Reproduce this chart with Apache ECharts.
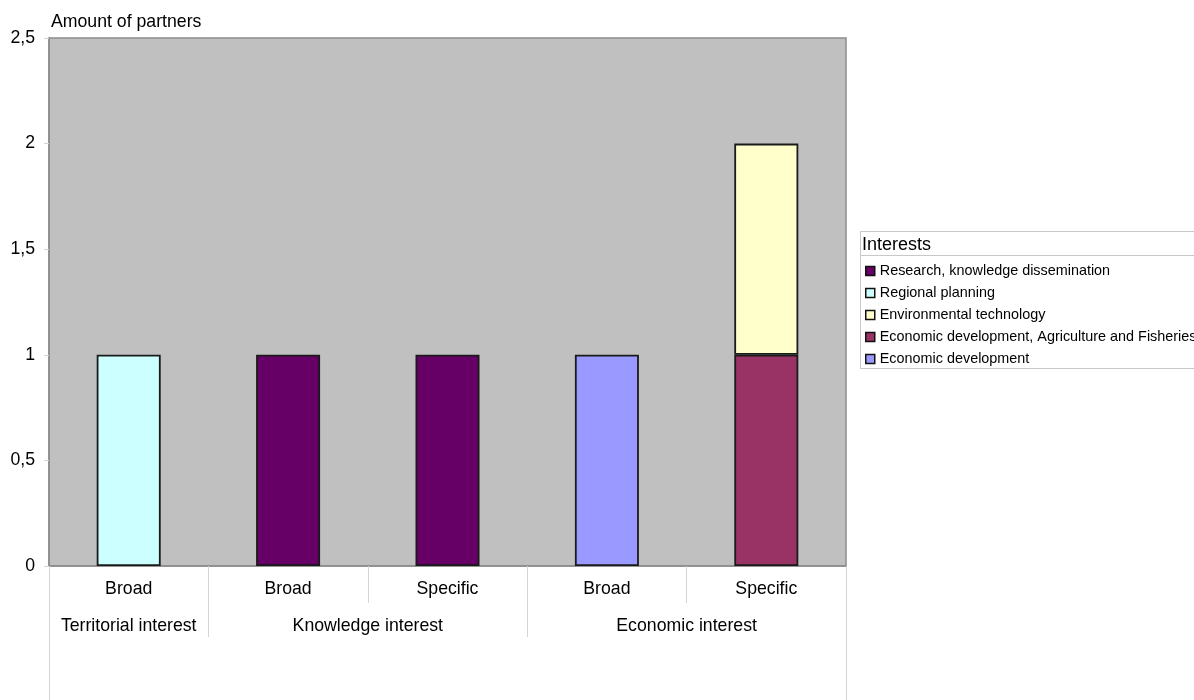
<!DOCTYPE html>
<html>
<head>
<meta charset="utf-8">
<script src="https://cdn.jsdelivr.net/npm/echarts@6/dist/echarts.min.js"></script>
<style>
  html, body { margin: 0; padding: 0; background: #fff; }
  #chart { width: 1194px; height: 700px; }
</style>
</head>
<body>
<div id="chart"></div>
<script>
// Sub-category under each column, and the interest groups they belong to
const categories = ['Broad', 'Broad', 'Specific', 'Broad', 'Specific'];
const groupNames = ['Territorial interest', 'Knowledge interest', 'Economic interest'];
const groupSpans = [1, 2, 2]; // number of columns in each group

// Number of partners per interest (stacked bottom to top)
const econDevelopment = [null, null, null, 1, null];
const econAgriFisheries = [null, null, null, null, 1];
const environmentalTech = [null, null, null, null, 1];
const regionalPlanning = [1, null, null, null, null];
const researchKnowledge = [null, 1, 1, null, null];

const yTicks = { min: 0, max: 2.5, interval: 0.5 };

const FONT = '"Liberation Sans", Arial, sans-serif';

// Group axis runs in half-column units: column i covers [2i, 2i+2]
const groupBounds = [0];
const groupCenters = [];
groupSpans.forEach(function (s) {
  const start = groupBounds[groupBounds.length - 1];
  groupCenters.push(start + s);
  groupBounds.push(start + 2 * s);
});
const halfUnits = categories.length * 2;

const chart = echarts.init(document.getElementById('chart'), null, { renderer: 'canvas' });

function bar(name, data, color) {
  return {
    name: name,
    type: 'bar',
    stack: 'total',
    data: data,
    barWidth: 64,
    xAxisIndex: 0,
    yAxisIndex: 0,
    itemStyle: { color: color, borderColor: '#1a1a1a', borderWidth: 1.8 },
    emphasis: { disabled: true }
  };
}

chart.setOption({
  animation: false,
  backgroundColor: '#ffffff',
  textStyle: { fontFamily: FONT },
  grid: {
    left: 49, top: 38, right: 348, bottom: 134,
    show: true,
    backgroundColor: '#c0c0c0',
    borderColor: '#8c8c8c',
    borderWidth: 1.5,
    containLabel: false
  },
  title: {
    text: 'Interests',
    left: 862, top: 236,
    padding: 0,
    textStyle: { fontFamily: FONT, fontSize: 18, fontWeight: 'normal', color: '#000' }
  },
  graphic: [
    {
      type: 'rect', z: 0,
      shape: { x: 860.5, y: 231.5, width: 420, height: 137 },
      style: { fill: '#ffffff', stroke: '#c8c8c8', lineWidth: 1 }
    },
    {
      type: 'line', z: 1,
      shape: { x1: 860.5, y1: 255.5, x2: 1194, y2: 255.5 },
      style: { stroke: '#c8c8c8', lineWidth: 1 }
    }
  ],
  legend: {
    orient: 'vertical',
    left: 865, top: 263,
    padding: 0,
    itemWidth: 9, itemHeight: 9,
    itemGap: 6,
    icon: 'rect',
    selectedMode: false,
    itemStyle: { borderColor: '#111', borderWidth: 1.5 },
    textStyle: { fontFamily: FONT, fontSize: 14.4, color: '#000', lineHeight: 16 },
    data: [
      'Research, knowledge dissemination',
      'Regional planning',
      'Environmental technology',
      'Economic development, Agriculture and Fisheries',
      'Economic development'
    ]
  },
  xAxis: [
    {
      type: 'category',
      data: categories,
      position: 'bottom',
      axisLine: { show: true, onZero: false, lineStyle: { color: '#8c8c8c', width: 1.5 } },
      axisTick: { show: true, alignWithLabel: false, length: 37, lineStyle: { color: '#d4d4d4' } },
      axisLabel: { fontFamily: FONT, fontSize: 17.7, color: '#000', margin: 14 },
      splitLine: { show: false }
    },
    {
      type: 'value',
      min: 0, max: halfUnits, interval: 1,
      position: 'bottom',
      offset: 0,
      axisLine: { show: false, onZero: false },
      axisTick: { show: true, customValues: groupBounds, length: 71, lineStyle: { color: '#d4d4d4' } },
      axisLabel: {
        show: true,
        customValues: groupCenters,
        fontFamily: FONT, fontSize: 17.7, color: '#000', margin: 51,
        formatter: function (v) {
          const i = groupCenters.indexOf(v);
          return i >= 0 ? groupNames[i] : '';
        }
      },
      splitLine: { show: false }
    },
    {
      type: 'value',
      min: 0, max: halfUnits, interval: 1,
      position: 'bottom',
      offset: 0,
      axisLine: { show: false, onZero: false },
      axisTick: { show: true, customValues: [0, halfUnits], length: 134, lineStyle: { color: '#d4d4d4' } },
      axisLabel: { show: false },
      splitLine: { show: false }
    }
  ],
  yAxis: {
    type: 'value',
    min: yTicks.min, max: yTicks.max, interval: yTicks.interval,
    name: 'Amount of partners',
    nameLocation: 'end',
    nameGap: 16,
    nameTextStyle: { fontFamily: FONT, fontSize: 17.7, color: '#000', align: 'left', verticalAlign: 'middle', padding: [0, 0, 0, 2] },
    axisLine: { show: true, lineStyle: { color: '#8c8c8c', width: 1.5 } },
    axisTick: { show: true, length: 5, lineStyle: { color: '#d4d4d4' } },
    axisLabel: {
      fontFamily: FONT, fontSize: 17.7, color: '#000', margin: 14,
      formatter: function (v) { return String(v).replace('.', ','); }
    },
    splitLine: { show: false }
  },
  series: [
    bar('Economic development', econDevelopment, '#9999ff'),
    bar('Economic development, Agriculture and Fisheries', econAgriFisheries, '#993366'),
    bar('Environmental technology', environmentalTech, '#ffffcc'),
    bar('Regional planning', regionalPlanning, '#ccffff'),
    bar('Research, knowledge dissemination', researchKnowledge, '#660066')
  ]
});
</script>
</body>
</html>
